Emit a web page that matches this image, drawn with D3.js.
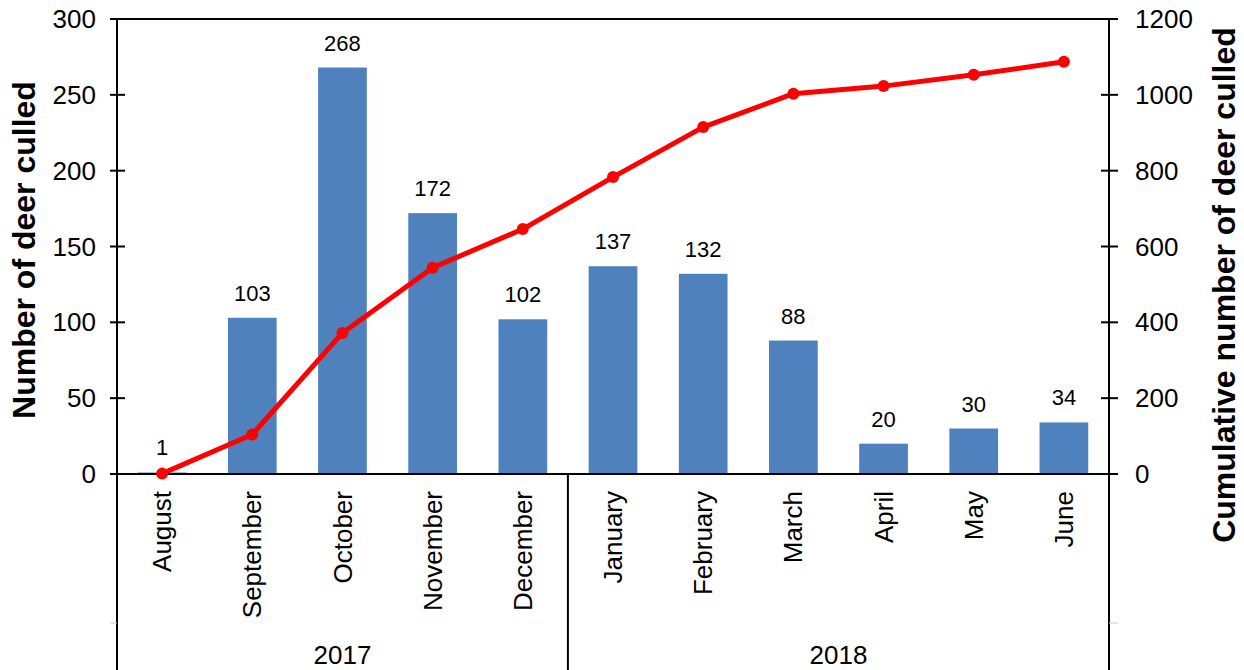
<!DOCTYPE html>
<html>
<head>
<meta charset="utf-8">
<script src="https://cdn.jsdelivr.net/npm/d3@7"></script>
<style>
  body { margin: 0; background: #fff; }
  text { font-family: "Liberation Sans", Arial, sans-serif; fill: #000; }
</style>
</head>
<body>
<div id="chart"></div>
<script>
// data
const months = ["August", "September", "October", "November", "December",
                "January", "February", "March", "April", "May", "June"];
const years = ["2017", "2018"];
const yearOfMonth = ["2017", "2017", "2017", "2017", "2017",
                     "2018", "2018", "2018", "2018", "2018", "2018"];
const culled = [1, 103, 268, 172, 102, 137, 132, 88, 20, 30, 34];
const cumulative = [1, 104, 372, 544, 646, 783, 915, 1003, 1023, 1053, 1087];
const leftTicks = [0, 50, 100, 150, 200, 250, 300];
const rightTicks = [0, 200, 400, 600, 800, 1000, 1200];

const W = 1244, H = 670;
const margin = {left: 117, right: 135, top: 19};
const zeroY = 474;
const sepY = 623;

const svg = d3.select("#chart").append("svg")
    .attr("width", W)
    .attr("height", H);

const x = d3.scaleBand()
    .domain(months)
    .range([margin.left, W - margin.right])
    .paddingInner(0.46)
    .paddingOuter(0.23);

const yL = d3.scaleLinear().domain([0, 300]).range([zeroY, margin.top]);
const yR = d3.scaleLinear().domain([0, 1200]).range([zeroY, margin.top]);

const xL = margin.left, xR = W - margin.right;

// bars
svg.selectAll("rect.bar")
    .data(culled)
    .enter()
    .append("rect")
    .attr("class", "bar")
    .attr("x", (d, i) => x(months[i]))
    .attr("y", d => yL(d))
    .attr("width", x.bandwidth())
    .attr("height", d => zeroY - yL(d))
    .attr("fill", "#4F81BD");

// bar labels
svg.selectAll("text.val")
    .data(culled)
    .enter()
    .append("text")
    .attr("class", "val")
    .attr("x", (d, i) => x(months[i]) + x.bandwidth() / 2)
    .attr("y", d => yL(d) - 17)
    .attr("text-anchor", "middle")
    .style("font-size", "22px")
    .text(d => d);

// frame: top line, left and right axes
svg.append("line")
    .attr("x1", xL - 7).attr("x2", xR + 9)
    .attr("y1", margin.top).attr("y2", margin.top)
    .attr("stroke", "#000").attr("stroke-width", 2);

svg.append("line")
    .attr("x1", xL).attr("x2", xL)
    .attr("y1", margin.top).attr("y2", H)
    .attr("stroke", "#000").attr("stroke-width", 2);

svg.append("line")
    .attr("x1", xR).attr("x2", xR)
    .attr("y1", margin.top).attr("y2", H)
    .attr("stroke", "#000").attr("stroke-width", 2);

// left axis ticks and labels
const gl = svg.append("g");
gl.selectAll("line")
    .data(leftTicks)
    .enter()
    .append("line")
    .attr("x1", xL - 7).attr("x2", xL + 8)
    .attr("y1", d => yL(d)).attr("y2", d => yL(d))
    .attr("stroke", "#000").attr("stroke-width", 2);
gl.selectAll("text")
    .data(leftTicks)
    .enter()
    .append("text")
    .attr("x", xL - 21)
    .attr("y", d => yL(d))
    .attr("dy", "0.35em")
    .attr("text-anchor", "end")
    .style("font-size", "26px")
    .text(d => d);

// right axis ticks and labels
const gr = svg.append("g");
gr.selectAll("line")
    .data(rightTicks)
    .enter()
    .append("line")
    .attr("x1", xR - 8).attr("x2", xR + 9)
    .attr("y1", d => yR(d)).attr("y2", d => yR(d))
    .attr("stroke", "#000").attr("stroke-width", 2);
gr.selectAll("text")
    .data(rightTicks)
    .enter()
    .append("text")
    .attr("x", xR + 26)
    .attr("y", d => yR(d))
    .attr("dy", "0.35em")
    .attr("text-anchor", "start")
    .style("font-size", "26px")
    .text(d => d);

// x axis baseline
svg.append("line")
    .attr("x1", xL - 7).attr("x2", xR + 9)
    .attr("y1", zeroY).attr("y2", zeroY)
    .attr("stroke", "#000").attr("stroke-width", 2);

// month labels
svg.selectAll("text.month")
    .data(months)
    .enter()
    .append("text")
    .attr("class", "month")
    .attr("transform", d => `translate(${x(d) + x.bandwidth() / 2}, ${zeroY + 17}) rotate(-90)`)
    .attr("dy", "0.35em")
    .attr("text-anchor", "end")
    .style("font-size", "26px")
    .text(d => d);

// year group divider and labels
const yearCount = years.map(yr => yearOfMonth.filter(v => v === yr).length);
const divX = x.step() * yearCount[0] + xL;
svg.append("line")
    .attr("x1", divX).attr("x2", divX)
    .attr("y1", zeroY).attr("y2", H)
    .attr("stroke", "#000").attr("stroke-width", 2);

[xL, divX, xR].forEach((px, i) => {
    svg.append("line")
        .attr("x1", i === 0 ? px - 7 : px).attr("x2", i === 2 ? px + 9 : px)
        .attr("y1", sepY).attr("y2", sepY)
        .attr("stroke", "#ccc").attr("stroke-width", 1);
});

let startIdx = 0;
years.forEach((yr, k) => {
    const a = x(months[startIdx]) - x.step() * x.paddingOuter();
    const b = a + x.step() * yearCount[k];
    svg.append("text")
        .attr("x", (a + b) / 2)
        .attr("y", 664)
        .attr("text-anchor", "middle")
        .style("font-size", "26px")
        .text(yr);
    startIdx += yearCount[k];
});

// cumulative line
const line = d3.line()
    .x((d, i) => x(months[i]) + x.bandwidth() / 2)
    .y(d => yR(d));

svg.append("path")
    .datum(cumulative)
    .attr("d", line)
    .attr("fill", "none")
    .attr("stroke", "#FF0000")
    .attr("stroke-width", 5)
    .attr("stroke-linejoin", "round");

svg.selectAll("circle.pt")
    .data(cumulative)
    .enter()
    .append("circle")
    .attr("class", "pt")
    .attr("cx", (d, i) => x(months[i]) + x.bandwidth() / 2)
    .attr("cy", d => yR(d))
    .attr("r", 6)
    .attr("fill", "#FF0000");

// axis titles
svg.append("text")
    .attr("transform", `translate(35, 250) rotate(-90)`)
    .attr("text-anchor", "middle")
    .style("font-size", "32px")
    .style("font-weight", "bold")
    .text("Number of deer culled");

svg.append("text")
    .attr("transform", `translate(1235, 285) rotate(-90)`)
    .attr("text-anchor", "middle")
    .style("font-size", "32px")
    .style("font-weight", "bold")
    .text("Cumulative number of deer culled");
</script>
</body>
</html>
